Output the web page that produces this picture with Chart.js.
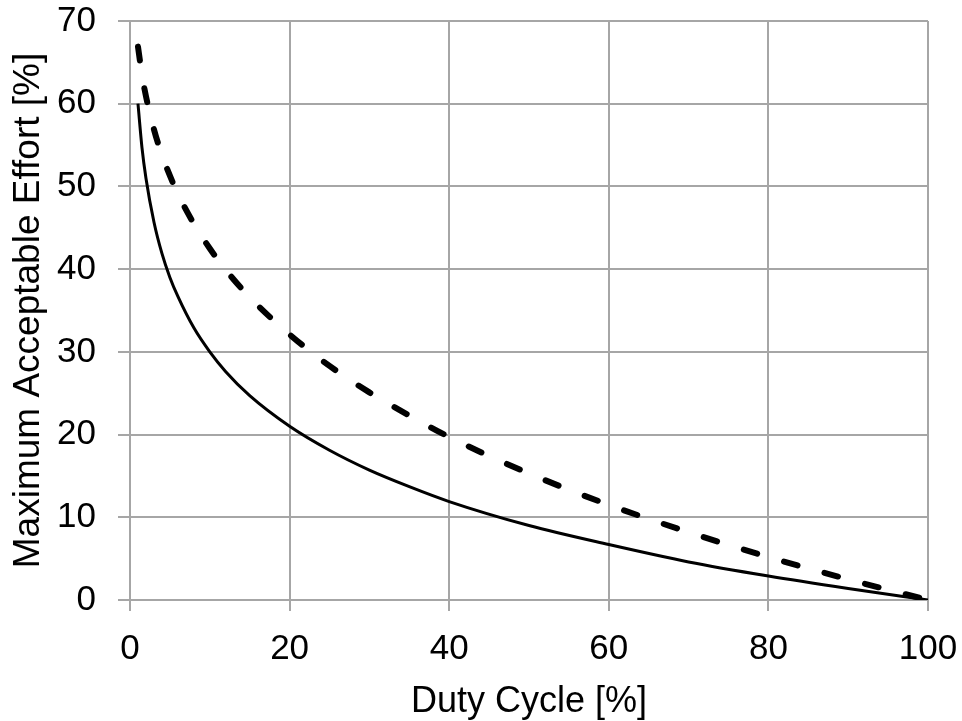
<!DOCTYPE html>
<html>
<head>
<meta charset="utf-8">
<title>Maximum Acceptable Effort vs Duty Cycle</title>
<script src="https://cdn.jsdelivr.net/npm/chart.js@4.4.1/dist/chart.umd.min.js"></script>
<style>
  html, body { margin: 0; padding: 0; background: #ffffff; }
  .chart-box { width: 962px; height: 721px; position: relative; }
</style>
</head>
<body>
<div class="chart-box">
  <canvas id="effortChart"></canvas>
</div>

<script>
// values
const dutyCycle = [1, 1.5, 2, 3, 4, 5, 6, 8, 10, 12, 15, 20, 25, 30, 35, 40, 50, 60, 70, 80, 90, 100];
const solidEffort = [60, 54.7, 51, 45.7, 41.9, 39, 36.7, 32.9, 30, 27.6, 24.7, 21, 18.1, 15.7, 13.7, 11.9, 9, 6.7, 4.6, 2.9, 1.4, 0];
const dashedEffort = [66.9, 63.5, 60.9, 56.9, 53.8, 51.3, 49.1, 45.5, 42.5, 39.9, 36.6, 32.1, 28.3, 25.1, 22.3, 19.7, 15.3, 11.5, 8.2, 5.2, 2.5, 0];

const xTicks = [0, 20, 40, 60, 80, 100];
const yTicks = [0, 10, 20, 30, 40, 50, 60, 70];

const gridColor = '#a6a6a6';
const fontFamily = '"Liberation Sans", Arial, sans-serif';


const toPoints = (ys) => dutyCycle.map((x, i) => ({ x: x, y: ys[i] }));


const canvas = document.getElementById('effortChart');
const context = canvas.getContext('2d');

new Chart(context, {
  type: 'line',
  data: {
    datasets: [
      {
        label: 'solid',
        data: toPoints(solidEffort),
        borderColor: '#000000',
        borderWidth: 3,
        pointRadius: 0,
        fill: false,
        cubicInterpolationMode: 'monotone',
      },
      {
        label: 'dashed',
        data: toPoints(dashedEffort),
        borderColor: '#000000',
        borderWidth: 6,
        borderDash: [14, 28],
        borderCapStyle: 'round',
        pointRadius: 0,
        fill: false,
        cubicInterpolationMode: 'monotone',
      },
    ],
  },
  options: {
    responsive: true,
    maintainAspectRatio: false,
    animation: false,
    layout: {
      padding: { top: 21, right: 34, left: 0, bottom: 0 },
    },
    plugins: {
      legend: { display: false },
      tooltip: { enabled: false },
    },
    scales: {
      x: {
        type: 'linear',
        min: 0,
        max: 100,
        afterBuildTicks: (scale) => { scale.ticks = xTicks.map((v) => ({ value: v })); },
        afterFit: (scale) => {
          scale.height = 121;
          // layout padding decides the plot edges, not the label overhang
          scale.paddingLeft = 0;
          scale.paddingRight = 0;
        },
        grid: { color: gridColor, lineWidth: 2, tickLength: 11 },
        border: { color: gridColor, width: 2 },
        ticks: {
          color: '#000000',
          padding: 17,
          maxRotation: 0,
          font: { family: fontFamily, size: 35 },
        },
        title: {
          display: true,
          text: 'Duty Cycle [%]',
          color: '#000000',
          padding: { top: 0, bottom: -3 },
          font: { family: fontFamily, size: 36 },
        },
      },
      y: {
        type: 'linear',
        min: 0,
        max: 70,
        afterBuildTicks: (scale) => { scale.ticks = yTicks.map((v) => ({ value: v })); },
        afterFit: (scale) => {
          scale.width = 130;
          scale.paddingTop = 0;
          scale.paddingBottom = 0;
        },
        grid: { color: gridColor, lineWidth: 2, tickLength: 12 },
        border: { color: gridColor, width: 2 },
        ticks: {
          color: '#000000',
          padding: 22,
          font: { family: fontFamily, size: 35 },
        },
        title: {
          display: true,
          text: 'Maximum Acceptable Effort [%]',
          color: '#000000',
          padding: { top: 7, bottom: 0 },
          font: { family: fontFamily, size: 37 },
        },
      },
    },
  },
});
</script>
</body>
</html>
